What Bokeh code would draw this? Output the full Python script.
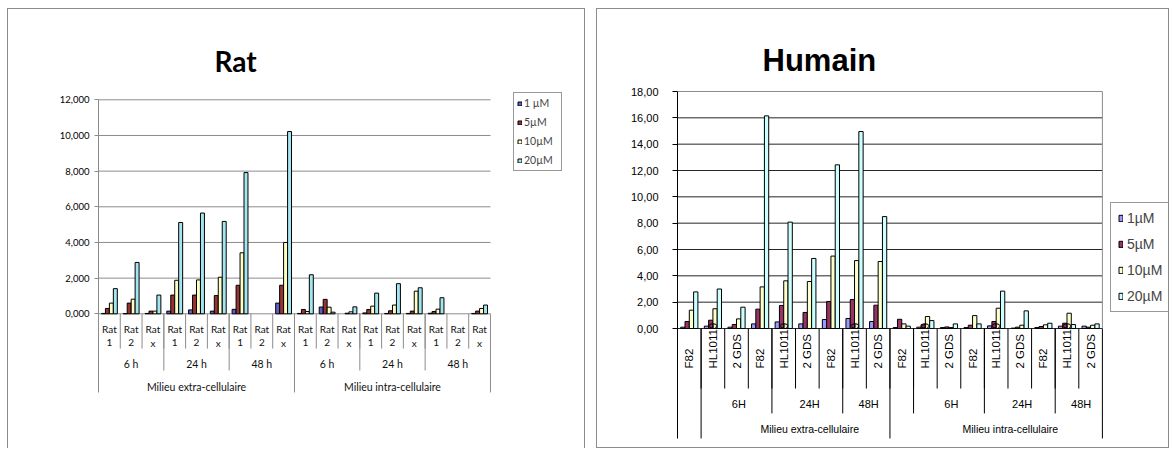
import math
from bokeh.plotting import figure
from bokeh.models import Range1d, FixedTicker, Legend, LegendItem, Title, ColumnDataSource
from bokeh.layouts import row
from bokeh.core.properties import value
from bokeh.embed import file_html
from bokeh.resources import INLINE

NaN = float("nan")

# ---------------- Rat ----------------
rat_series = ["1 µM", "5µM", "10µM", "20µM"]
rat_cells = ["1", "2", "x"] * 6
rat_times = ["6 h", "24 h", "48 h", "6 h", "24 h", "48 h"]
milieux = ["Milieu extra-cellulaire", "Milieu intra-cellulaire"]
rat_yticks = [0, 2, 4, 6, 8, 10, 12]
rat_ytick_labels = ["0,000", "2,000", "4,000", "6,000", "8,000", "10,000", "12,000"]

rat_1uM = [0.02, 0.01, 0.02, 0.15, 0.22, 0.15, 0.25, NaN, 0.60,
           0.02, 0.38, NaN, 0.05, 0.02, 0.02, 0.03, NaN, 0.02]
rat_5uM = [0.30, 0.60, 0.15, 1.05, 1.05, 1.02, 1.60, NaN, 1.60,
           0.24, 0.81, 0.03, 0.24, 0.17, 0.15, 0.13, NaN, 0.15]
rat_10uM = [0.60, 0.82, 0.15, 1.88, 1.90, 2.05, 3.42, NaN, 4.00,
            0.13, 0.37, 0.11, 0.43, 0.49, 1.27, 0.26, NaN, 0.30]
rat_20uM = [1.41, 2.88, 1.05, 5.12, 5.65, 5.18, 7.92, NaN, 10.22,
            2.19, 0.09, 0.39, 1.16, 1.69, 1.46, 0.90, NaN, 0.49]

# ---------------- Humain ----------------
hum_series = ["1µM", "5µM", "10µM", "20µM"]
hum_cells = ["F82", "HL10119", "2 GDS"] * 6
hum_times = ["6H", "24H", "48H", "6H", "24H", "48H"]
hum_yticks = [0, 2, 4, 6, 8, 10, 12, 14, 16, 18]
hum_ytick_labels = ["0,00", "2,00", "4,00", "6,00", "8,00", "10,00",
                    "12,00", "14,00", "16,00", "18,00"]

hum_1uM = [0.10, 0.18, 0.10, 0.35, 0.50, 0.35, 0.68, 0.76, 0.53,
           0.07, 0.10, 0.07, 0.07, 0.20, 0.03, 0.07, 0.18, 0.18]
hum_5uM = [0.53, 0.63, 0.30, 1.47, 1.75, 1.22, 2.05, 2.20, 1.77,
           0.70, 0.28, 0.12, 0.25, 0.53, 0.10, 0.15, 0.40, 0.10]
hum_10uM = [1.39, 1.50, 0.73, 3.16, 3.62, 3.57, 5.50, 5.16, 5.09,
            0.35, 0.91, 0.07, 0.98, 1.54, 0.25, 0.28, 1.16, 0.25]
hum_20uM = [2.78, 3.00, 1.62, 16.15, 8.08, 5.32, 12.43, 14.96, 8.50,
            0.18, 0.60, 0.35, 0.35, 2.84, 1.34, 0.40, 0.30, 0.35]

N_CAT = 18
BAR_W = 0.182
FIG_H = 440
BORDER_TOP, BORDER_BOTTOM = 80, 10   # shared by both panels (rows align frames)


def add_bars(p, columns, colors, names):
    items = []
    n = len(columns)
    for k, (vals, col, name) in enumerate(zip(columns, colors, names)):
        xs = [i + 0.5 + (k - (n - 1) / 2) * BAR_W for i in range(len(vals))]
        src = ColumnDataSource(dict(x=xs, top=vals))
        r = p.vbar(x="x", top="top", bottom=0, width=BAR_W, source=src,
                   fill_color=col, line_color="black", line_width=1)
        items.append(LegendItem(label=name, renderers=[r]))
    return items


def add_gridlines(p, ticks, color):
    n = len(ticks)
    p.segment(x0=[0] * n, y0=ticks, x1=[N_CAT] * n, y1=ticks,
              line_color=color, line_width=1)


def add_separators(p, bounds, depth, color, top=0):
    p.segment(x0=bounds, y0=[top] * len(bounds), x1=bounds, y1=[depth] * len(bounds),
              line_color=color, line_width=1)


def style_yaxis(p, ticks, labels, bottom, font, size, color, standoff, tick_out):
    ax = p.yaxis[0]
    ax.ticker = FixedTicker(ticks=ticks)
    ax.bounds = (bottom, ticks[-1])
    ax.major_label_overrides = {float(t): lab for t, lab in zip(ticks, labels)}
    ax.axis_line_color = color
    ax.major_tick_line_color = color
    ax.minor_tick_line_color = None
    ax.major_tick_in = 0
    ax.major_tick_out = tick_out
    ax.major_label_standoff = standoff
    ax.major_label_text_font = font
    ax.major_label_text_font_size = size
    ax.major_label_text_color = "#000000"


# ================= Rat chart =================
R_LVL1, R_LVL2, R_LVL3 = -1.95, -3.18, -4.41
p1 = figure(width=578, height=FIG_H, output_backend="svg", toolbar_location=None,
            x_range=Range1d(0, 21.95), y_range=Range1d(-7.049, 12.578),
            x_axis_location=None, min_border_left=90, min_border_right=10,
            min_border_top=BORDER_TOP, min_border_bottom=BORDER_BOTTOM,
            background_fill_color="white", border_fill_color="white")
p1.outline_line_color = None
p1.xgrid.visible = False
p1.ygrid.visible = False
style_yaxis(p1, rat_yticks, rat_ytick_labels, R_LVL3, "Lato", "9.5px", "#8c8c8c", 5, 4)
add_gridlines(p1, rat_yticks, "#8c8c8c")

rat_items = add_bars(p1, [rat_1uM, rat_5uM, rat_10uM, rat_20uM],
                     ["#5f5fc8", "#993333", "#ffffc4", "#a3e6f0"], rat_series)

add_separators(p1, list(range(1, 18)), R_LVL1, "#8c8c8c")
add_separators(p1, [3, 6, 12, 15], R_LVL2, "#8c8c8c")
add_separators(p1, [9, 18], R_LVL3, "#8c8c8c")

cx = [i + 0.5 for i in range(N_CAT)]
p1.text(x=cx, y=[-0.88] * 18, text=["Rat"] * 18, text_align="center",
        text_baseline="middle", text_font=value("Lato"), text_font_size="10px",
        text_color="#111111")
p1.text(x=cx, y=[-1.61] * 18, text=rat_cells, text_align="center",
        text_baseline="middle", text_font=value("Lato"), text_font_size="10px",
        text_color="#111111")
p1.text(x=[1.5 + 3 * j for j in range(6)], y=[-2.79] * 6, text=rat_times,
        text_align="center", text_baseline="middle", text_font=value("Lato"),
        text_font_size="10.5px", text_color="#111111")
p1.text(x=[4.5, 13.5], y=[-4.08] * 2, text=milieux, text_align="center",
        text_baseline="middle", text_font=value("Lato"), text_font_size="10.5px",
        text_color="#111111")

p1.add_layout(Title(text="Rat", align="left", offset=116, standoff=24,
                    text_font="Lato", text_font_size="28px",
                    text_font_style="bold", text_color="#000000"), "above")

leg1 = Legend(items=rat_items, location=(415, 268), orientation="vertical",
              border_line_color="#333333", border_line_width=1,
              background_fill_color="white", background_fill_alpha=1,
              padding=3, spacing=5, margin=0, glyph_width=5, glyph_height=5,
              label_standoff=2, label_height=14, label_width=34,
              label_text_font="Lato", label_text_font_size="10.5px")
p1.add_layout(leg1)
p1.margin = (8, 0, 0, 7)
p1.styles = {"border-left": "1px solid #8c8c8c", "border-top": "1px solid #8c8c8c",
             "border-right": "1px solid #8c8c8c"}

# ================= Humain chart =================
H_LVL1, H_LVL2, H_LVL3 = -4.56, -6.45, -8.35
p2 = figure(width=573, height=FIG_H, output_backend="svg", toolbar_location=None,
            x_range=Range1d(0, 20.8), y_range=Range1d(-8.43, 18.152),
            x_axis_location=None, min_border_left=80, min_border_right=2,
            min_border_top=BORDER_TOP, min_border_bottom=BORDER_BOTTOM,
            background_fill_color="white", border_fill_color="white")
p2.outline_line_color = None
p2.xgrid.visible = False
p2.ygrid.visible = False
style_yaxis(p2, hum_yticks, hum_ytick_labels, H_LVL3, "Liberation Sans", "11px",
            "#000000", 14, 5)
add_gridlines(p2, hum_yticks[:-1], "#262626")

# plot-area border: top and right in grey
p2.segment(x0=[0, N_CAT], y0=[18, 0], x1=[N_CAT, N_CAT], y1=[18, 18],
           line_color="#8c8c8c", line_width=1)

hum_items = add_bars(p2, [hum_1uM, hum_5uM, hum_10uM, hum_20uM],
                     ["#9999ff", "#993366", "#ffffcc", "#ccffff"], hum_series)

add_separators(p2, list(range(1, 18)), H_LVL1, "#000000")
add_separators(p2, [4, 7, 10, 13, 16], H_LVL2, "#000000")
add_separators(p2, [1, 9, 18], H_LVL3, "#000000")

p2.text(x=cx, y=[-3.04] * 18, text=hum_cells, angle=math.pi / 2,
        text_align="left", text_baseline="middle",
        text_font=value("Liberation Sans"), text_font_size="11.5px",
        text_color="#000000")
time_spans = [(1, 4), (4, 7), (7, 9), (10, 13), (13, 16), (16, 18)]
p2.text(x=[(a + b) / 2 + 0.1 for a, b in time_spans], y=[-5.7] * 6, text=hum_times,
        text_align="center", text_baseline="middle",
        text_font=value("Liberation Sans"), text_font_size="11px",
        text_color="#000000")
milieu_spans = [(1, 9), (9, 18)]
p2.text(x=[(a + b) / 2 + 0.6 for a, b in milieu_spans], y=[-7.67] * 2, text=milieux,
        text_align="center", text_baseline="middle",
        text_font=value("Liberation Sans"), text_font_size="10.5px",
        text_color="#000000")

p2.add_layout(Title(text="Humain", align="left", offset=85, standoff=23,
                    text_font="Liberation Sans", text_font_size="31px",
                    text_font_style="bold", text_color="#000000"), "above")

leg2 = Legend(items=hum_items, location=(433, 127), orientation="vertical",
              border_line_color="#333333", border_line_width=1,
              background_fill_color="white", background_fill_alpha=1,
              padding=7, spacing=10, margin=0, glyph_width=5, glyph_height=8,
              label_standoff=4, label_height=16, label_width=35,
              label_text_font="Liberation Sans", label_text_font_size="14px")
p2.add_layout(leg2)
p2.margin = (8, 0, 0, 11)
p2.styles = {"border": "1px solid #8c8c8c"}

layout = row(p1, p2)
open("out.html", "w").write(file_html(layout, INLINE))
